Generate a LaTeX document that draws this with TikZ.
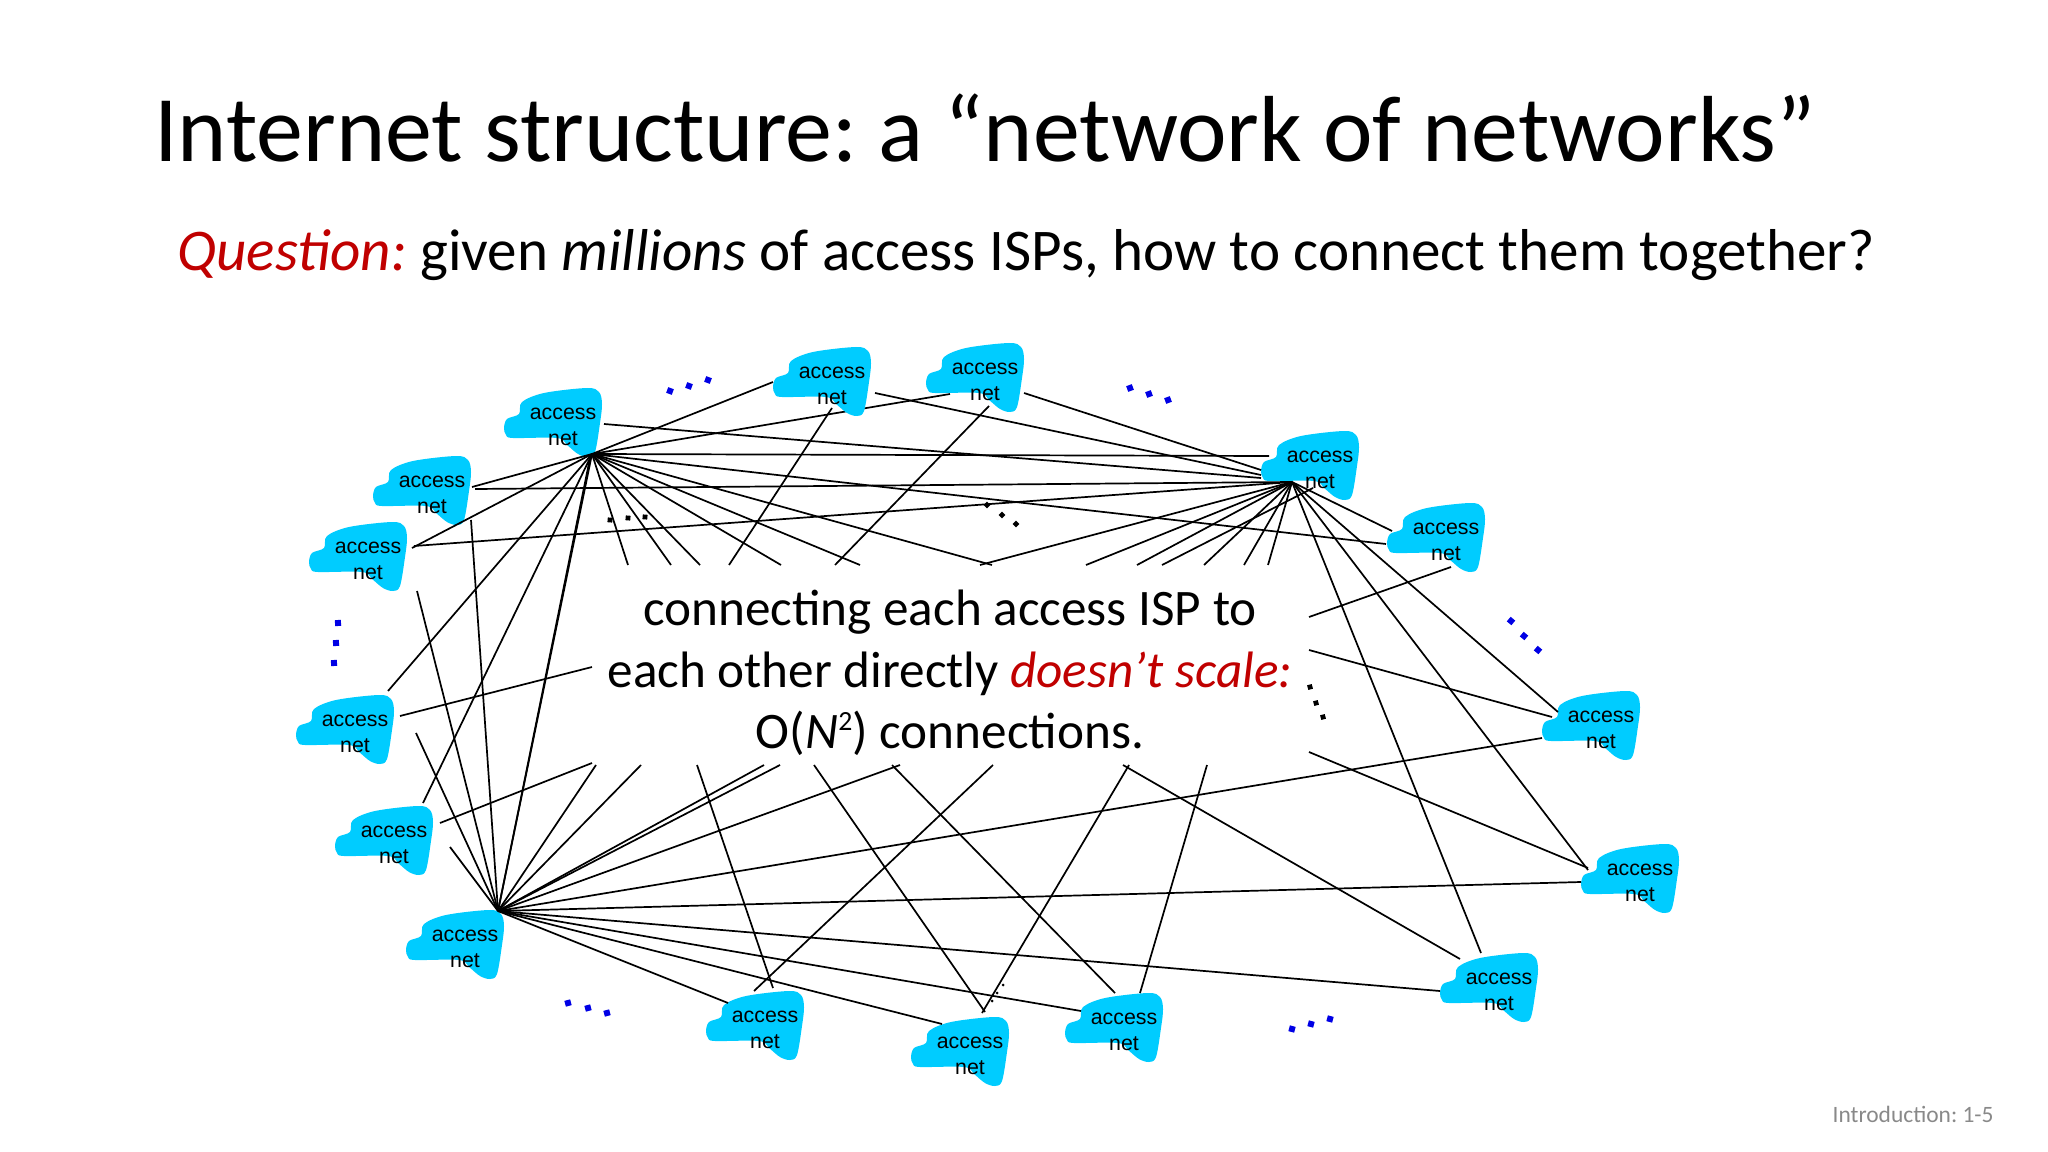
\documentclass[tikz,border=0pt]{standalone}
\usepackage{fontspec}
\usepackage{xcolor}
\setmainfont{Carlito}
\newfontfamily\cloudfont{Liberation Sans}
\definecolor{cloudblue}{RGB}{0,204,255}
\definecolor{slidered}{RGB}{192,0,0}
\definecolor{footgray}{RGB}{137,137,137}
\tikzset{
  link/.style={line width=0.8pt, black},
  cloudlabel/.style={font=\cloudfont\fontsize{10}{12}\selectfont, align=center, inner sep=0pt},
  bluedot/.style={blue!90!black},
  blackdot/.style={black, scale=.8}
}
\newcommand{\accessnet}[3]{
  \fill[cloudblue, shift={(#2,#3)}] plot[smooth cycle, tension=.55] coordinates {
    (-59,2) (-56,-7) (-44,-12) (-41,-24) (-19,-33) (24,-38) (36,-34) (39,-22)
    (37,-3) (32,26) (25,31) (15,28) (4,19) (-6,12) (-50,12) (-57,9)};
  \node[cloudlabel] (#1) at (#2,#3+1) {access\\net};
}
\newcommand{\squaredot}[4]{
  \fill[shift={(#2,#3)}, rotate=#4, #1] (-3,-3) rectangle (3,3);
}
\begin{document}
\frenchspacing
\begin{tikzpicture}[x=0.46875pt, y=-0.46875pt]
\useasboundingbox (0,0) rectangle (2048,1152);

\coordinate (hubA) at (592,454);
\coordinate (hubAb) at (590,458);
\coordinate (hubB) at (1292,482);
\coordinate (hubC) at (498,911);

\coordinate (c1a) at (604,424);
\coordinate (c2a) at (773,382);
\coordinate (c2b) at (875,393);
\coordinate (c2c) at (832,408);
\coordinate (c3a) at (950,394);
\coordinate (c3b) at (1024,393);
\coordinate (c3c) at (989,406);
\coordinate (c4a) at (1269,456);
\coordinate (c4b) at (1261,470);
\coordinate (c4c) at (1261,475);
\coordinate (c4d) at (1261,478);
\coordinate (c4e) at (1313,488);
\coordinate (c5a) at (1386,544);
\coordinate (c5b) at (1392,531);
\coordinate (c5c) at (1451,567);
\coordinate (c6a) at (1558,712);
\coordinate (c6b) at (1552,717);
\coordinate (c6c) at (1542,738);
\coordinate (c7a) at (1588,870);
\coordinate (c7b) at (1588,868);
\coordinate (c7c) at (1581,882);
\coordinate (c8a) at (1481,953);
\coordinate (c8b) at (1440,991);
\coordinate (c8c) at (1460,959);
\coordinate (c9a) at (1081,1011);
\coordinate (c9b) at (1115,993);
\coordinate (c9c) at (1140,993);
\coordinate (c10a) at (942,1024);
\coordinate (c10b) at (985,1012);
\coordinate (c10c) at (982,1013);
\coordinate (c11a) at (728,1003);
\coordinate (c11b) at (773,988);
\coordinate (c11c) at (754,991);
\coordinate (c13a) at (423,803);
\coordinate (c13b) at (450,847);
\coordinate (c13c) at (440,823);
\coordinate (c14a) at (388,691);
\coordinate (c14b) at (416,733);
\coordinate (c14c) at (400,716);
\coordinate (c15a) at (412,548);
\coordinate (c15b) at (414,546);
\coordinate (c15c) at (417,591);
\coordinate (c16a) at (472,487);
\coordinate (c16b) at (475,489);
\coordinate (c16c) at (471,520);

\coordinate (ta1) at (628,565);
\coordinate (ta2) at (671,565);
\coordinate (ta3) at (700,565);
\coordinate (ta4) at (781,565);
\coordinate (ta5) at (860,565);
\coordinate (ta6) at (992,565);
\coordinate (tb1) at (980,565);
\coordinate (tb2) at (1086,565);
\coordinate (tb3) at (1137,565);
\coordinate (tb4) at (1162,565);
\coordinate (tb5) at (1204,565);
\coordinate (tb6) at (1244,565);
\coordinate (tb7) at (1268,565);
\coordinate (tc2) at (729,565);
\coordinate (tc3) at (835,565);

\coordinate (r1) at (1309,617);
\coordinate (r2) at (1309,650);
\coordinate (r3) at (1309,752);
\coordinate (l1) at (592,763);
\coordinate (l2) at (592,667);

\coordinate (bc1) at (596,765);
\coordinate (bc2) at (641,765);
\coordinate (bc3) at (764,765);
\coordinate (bc4) at (780,765);
\coordinate (bc5) at (900,765);
\coordinate (bo1) at (697,765);
\coordinate (bo2) at (814,765);
\coordinate (bo3) at (892,765);
\coordinate (bo4) at (993,765);
\coordinate (bo5) at (1129,765);
\coordinate (bo6) at (1123,765);
\coordinate (bo7) at (1207,765);

% this one runs behind the second cloud
\draw[link] (hubA) -- (c3a);

\accessnet{net1}{563}{426}
\accessnet{net2}{832}{385}
\accessnet{net3}{985}{381}
\accessnet{net4}{1320}{469}
\accessnet{net5}{1446}{541}
\accessnet{net6}{1601}{729}
\accessnet{net7}{1640}{882}
\accessnet{net8}{1499}{991}
\accessnet{net9}{1124}{1031}
\accessnet{net10}{970}{1055}
\accessnet{net11}{765}{1029}
\accessnet{net12}{465}{948}
\accessnet{net13}{394}{844}
\accessnet{net14}{355}{733}
\accessnet{net15}{368}{560}
\accessnet{net16}{432}{494}

% first hub
\draw[link] (hubA) -- (c2a);
\draw[link] (hubA) -- (c16a);
\draw[link] (hubA) -- (c15a);
\draw[link] (hubA) -- (c4a);
\draw[link] (hubA) -- (c5a);
\draw[link] (hubA) -- (c14a);
\draw[link] (hubA) -- (c13a);
\draw[link] (hubA) -- (hubC);
\draw[link] (hubAb) -- (hubC);
\draw[link] (hubA) -- (ta1);
\draw[link] (hubA) -- (ta2);
\draw[link] (hubA) -- (ta3);
\draw[link] (hubA) -- (ta4);
\draw[link] (hubA) -- (ta5);
\draw[link] (hubA) -- (ta6);

% second hub
\draw[link] (hubB) -- (c16b);
\draw[link] (hubB) -- (c15b);
\draw[link] (c3b) -- (c4b);
\draw[link] (c2b) -- (c4c);
\draw[link] (c1a) -- (c4d);
\draw[link] (hubB) -- (tb1);
\draw[link] (hubB) -- (tb2);
\draw[link] (hubB) -- (tb3);
\draw[link] (c4e) -- (tb4);
\draw[link] (hubB) -- (tb5);
\draw[link] (hubB) -- (tb6);
\draw[link] (hubB) -- (tb7);
\draw[link] (hubB) -- (c8a);
\draw[link] (hubB) -- (c7a);
\draw[link] (hubB) -- (c6a);
\draw[link] (hubB) -- (c5b);
\draw[link] (c2c) -- (tc2);
\draw[link] (c3c) -- (tc3);

% third hub
\draw[link] (hubC) -- (c6c);
\draw[link] (hubC) -- (c7c);
\draw[link] (hubC) -- (c8b);
\draw[link] (hubC) -- (c9a);
\draw[link] (hubC) -- (c10a);
\draw[link] (hubC) -- (c11a);
\draw[link] (hubC) -- (c13b);
\draw[link] (hubC) -- (c14b);
\draw[link] (hubC) -- (c15c);
\draw[link] (hubC) -- (c16c);
\draw[link] (hubC) -- (bc1);
\draw[link] (hubC) -- (bc2);
\draw[link] (hubC) -- (bc3);
\draw[link] (hubC) -- (bc4);
\draw[link] (hubC) -- (bc5);

% lines that stop at the text
\draw[link] (c5c) -- (r1);
\draw[link] (c6b) -- (r2);
\draw[link] (c7b) -- (r3);
\draw[link] (c13c) -- (l1);
\draw[link] (c14c) -- (l2);
\draw[link] (bo1) -- (c11b);
\draw[link] (bo2) -- (c10b);
\draw[link] (bo3) -- (c9b);
\draw[link] (bo4) -- (c11c);
\draw[link] (bo5) -- (c10c);
\draw[link] (bo6) -- (c8c);
\draw[link] (bo7) -- (c9c);

% dots
\squaredot{bluedot}{670}{391}{-20}
\squaredot{bluedot}{689}{386}{-20}
\squaredot{bluedot}{708}{380}{-20}
\squaredot{bluedot}{1130}{388}{20}
\squaredot{bluedot}{1149}{394}{20}
\squaredot{bluedot}{1168}{400}{20}
\squaredot{bluedot}{1511}{621}{50}
\squaredot{bluedot}{1524}{636}{50}
\squaredot{bluedot}{1538}{650}{50}
\squaredot{bluedot}{338}{623}{5}
\squaredot{bluedot}{336}{643}{5}
\squaredot{bluedot}{334}{663}{5}
\squaredot{bluedot}{568}{1003}{15}
\squaredot{bluedot}{588}{1008}{15}
\squaredot{bluedot}{607}{1013}{15}
\squaredot{bluedot}{1292}{1029}{-15}
\squaredot{bluedot}{1311}{1024}{-15}
\squaredot{bluedot}{1330}{1019}{-15}
\squaredot{blackdot}{610}{520}{-5}
\squaredot{blackdot}{628}{518}{-5}
\squaredot{blackdot}{645}{517}{-5}
\squaredot{blackdot}{987}{505}{45}
\squaredot{blackdot}{1002}{515}{45}
\squaredot{blackdot}{1016}{524}{45}
\squaredot{blackdot}{1310}{687}{15}
\squaredot{blackdot}{1316}{703}{15}
\squaredot{blackdot}{1323}{717}{15}
\fill[black] (1003,985) circle (1.5);
\fill[black] (997,993) circle (1.5);
\fill[black] (992,1001) circle (1.5);

\node[anchor=base, inner sep=0pt] (title) at (985,162) {\fontsize{44}{50}\selectfont Internet structure: a “network of networks”};
\node[anchor=base, inner sep=0pt] (question) at (1026,271) {\fontsize{27.7}{34}\selectfont \textcolor{slidered}{\textit{Question:}} given \textit{millions} of access ISPs, how to connect them together?};
\node[align=center, inner sep=0pt, font=\fontsize{24}{28.8}\selectfont] (scale) at (950,673) {connecting each access ISP to\\ each other directly \textcolor{slidered}{\textit{doesn’t scale:}}\\ O(\textit{N}\raisebox{0.36em}{\fontsize{13}{13}\selectfont 2}) connections.};
\node[anchor=base east, inner sep=0pt, text=footgray] (foot) at (1994,1122) {\fontsize{11}{14}\selectfont Introduction: 1-5};
\end{tikzpicture}
\end{document}
